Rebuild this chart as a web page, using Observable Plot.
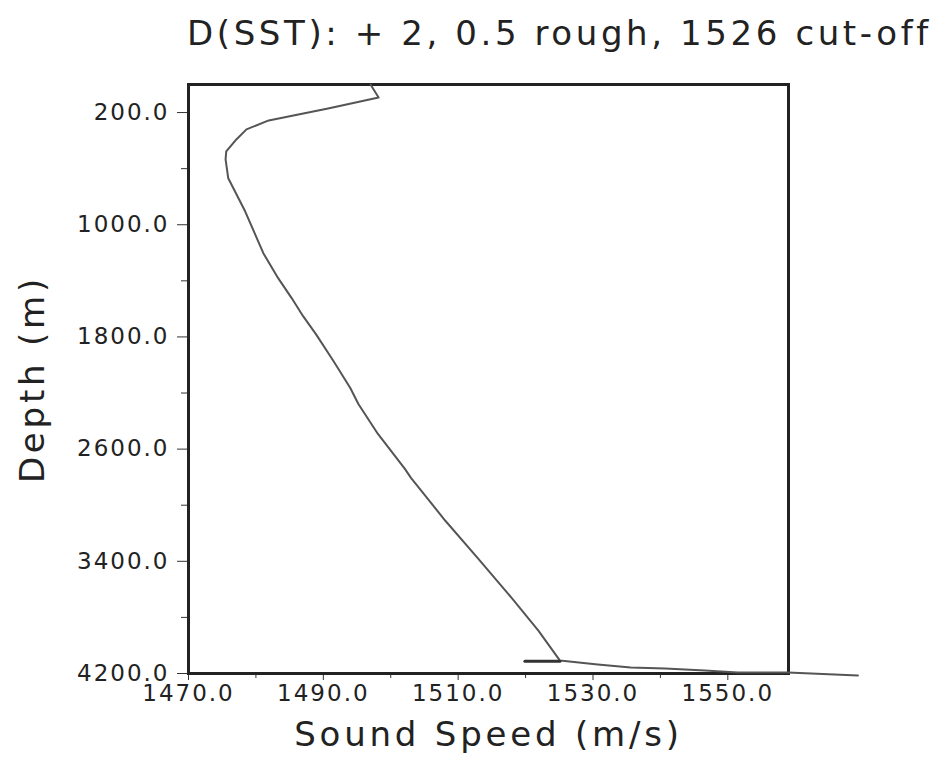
<!DOCTYPE html>
<html><head><meta charset="utf-8">
<script src="https://cdn.jsdelivr.net/npm/d3@7"></script>
<script src="https://cdn.jsdelivr.net/npm/@observablehq/plot@0.6"></script>
<style>
body{margin:0;background:#fff;width:932px;height:758px;overflow:hidden;font-family:"DejaVu Sans",sans-serif;}
#title{height:52px;box-sizing:border-box;padding-top:16px;padding-left:187px;font-size:34px;line-height:34px;letter-spacing:3.6px;white-space:nowrap;color:#222;}
g[aria-label="x-axis tick label"] text, g[aria-label="y-axis tick label"] text{letter-spacing:2px;}
g[aria-label="text"] text{letter-spacing:3.8px;}
</style></head><body>
<div id="title">D(SST): + 2, 0.5 rough, 1526 cut-off</div>
<div id="chart"></div>
<script>
const profileSpeed = [1497.0, 1498.2, 1490.7, 1481.9, 1478.6, 1477.1, 1475.6, 1475.5, 1475.9, 1478.4, 1481.1, 1483.3, 1485.3, 1487.0, 1488.9, 1491.5, 1494.0, 1495.2, 1498.1, 1502.1, 1503.0, 1508.1, 1513.0, 1517.9, 1521.9, 1525.1, 1530.7, 1535.6, 1540.7, 1546.6, 1551.5, 1558.9, 1569.3];
const profileDepth = [0, 93, 171, 256, 320, 392, 477, 534, 669, 904, 1203, 1381, 1523, 1652, 1780, 1972, 2164, 2278, 2492, 2741, 2805, 3111, 3382, 3659, 3894, 4108, 4136, 4157, 4165, 4179, 4193, 4193, 4214];
const cutoffSpeed = [1519.9, 1525.1];
const cutoffDepth = [4112, 4112];
const xTicks = [1470, 1490, 1510, 1530, 1550];
const xMinor = [1480, 1500, 1520, 1540];
const yTicks = [200, 1000, 1800, 2600, 3400, 4200];
const yMinor = [600, 1400, 2200, 3000, 3800];
const xLabel = "Sound Speed (m/s)";
const yLabel = "Depth (m)";

const profile = profileSpeed.map((s, i) => ({speed: s, depth: profileDepth[i]}));
const cutoff = cutoffSpeed.map((s, i) => ({speed: s, depth: cutoffDepth[i]}));

const chart = Plot.plot({
  width: 932, height: 706,
  marginTop: 32, marginBottom: 85, marginLeft: 188, marginRight: 144,
  x: {domain: [1470, 1559]},
  y: {domain: [0, 4200], reverse: true},
  style: {fontFamily: "DejaVu Sans", color: "#222", background: "white"},
  marks: [
    Plot.axisX(xTicks, {tickSize: 7, tickPadding: 4, tickFormat: d => d.toFixed(1), fontSize: 23, label: null, stroke: "#333"}),
    Plot.axisX(xMinor, {tickSize: 5, tickFormat: () => "", label: null, stroke: "#333"}),
    Plot.axisY(yTicks, {tickSize: 11, tickPadding: 8, tickFormat: d => d.toFixed(1), fontSize: 23, label: null, stroke: "#333"}),
    Plot.axisY(yMinor, {tickSize: 7, tickFormat: () => "", label: null, stroke: "#333"}),
    Plot.frame({stroke: "#222", strokeWidth: 3}),
    Plot.line(profile, {x: "speed", y: "depth", stroke: "#555", strokeWidth: 2}),
    Plot.line(cutoff, {x: "speed", y: "depth", stroke: "#333", strokeWidth: 3}),
    Plot.text([xLabel], {frameAnchor: "bottom", dy: 72, fontSize: 34, fill: "#222"}),
    Plot.text([yLabel], {frameAnchor: "left", textAnchor: "middle", dx: -155, rotate: -90, fontSize: 34, fill: "#222"})
  ]
});
document.getElementById("chart").appendChild(chart);
</script>
</body></html>
